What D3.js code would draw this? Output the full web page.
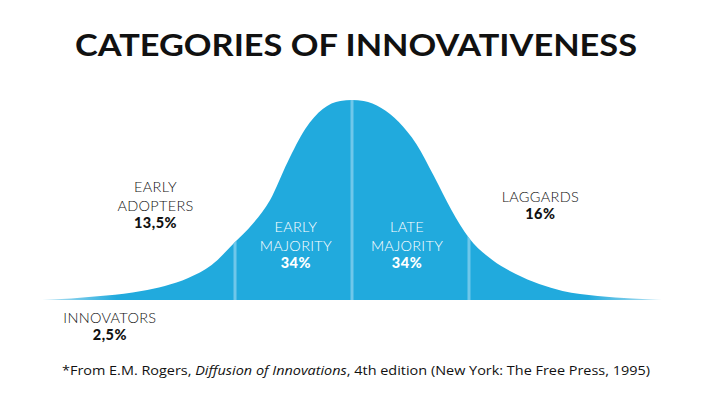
<!DOCTYPE html>
<html>
<head>
<meta charset="utf-8">
<script src="https://cdn.jsdelivr.net/npm/d3@7"></script>
<style>
  html, body { margin: 0; padding: 0; background: #fff; }
  svg { display: block; }
</style>
</head>
<body>
<div id="chart"></div>
<script>
// adoption categories, left to right
const categories = ['INNOVATORS', 'EARLY ADOPTERS', 'EARLY MAJORITY', 'LATE MAJORITY', 'LAGGARDS'];
const shares = ['2,5%', '13,5%', '34%', '34%', '16%'];

// bell curve: x in standard deviations, height relative to the peak
const curveX = [-2.65, -2.4, -2.1, -1.8, -1.6, -1.4, -1.2, -1.0, -0.85, -0.7, -0.55, -0.4, -0.25, -0.1, 0,
  0.1, 0.25, 0.4, 0.55, 0.7, 0.85, 1.0, 1.2, 1.4, 1.6, 1.8, 2.1, 2.4, 2.65];
const curveY = [0, 0.008, 0.022, 0.045, 0.07, 0.11, 0.175, 0.29, 0.38, 0.5, 0.69, 0.855, 0.955, 0.995, 1,
  0.995, 0.96, 0.89, 0.78, 0.62, 0.45, 0.31, 0.2, 0.13, 0.08, 0.045, 0.02, 0.007, 0];

// boundaries between categories (mean - sd, mean, mean + sd)
const dividers = [-1, 0, 1];

const title = 'CATEGORIES OF INNOVATIVENESS';

const width = 712;
const height = 394;
const blue = '#21aadd';

const svg = d3.select('#chart')
  .append('svg')
  .attr('width', width)
  .attr('height', height);

const x = d3.scaleLinear().domain([-2.65, 2.65]).range([42, 662]);
const y = d3.scaleLinear().domain([0, 1]).range([300, 100]);

const points = curveX.map((v, i) => [v, curveY[i]]);

const defs = svg.append('defs');

// tails fade out a little toward both ends
const grad = defs.append('linearGradient')
  .attr('id', 'tailFade')
  .attr('gradientUnits', 'userSpaceOnUse')
  .attr('x1', x(-2.65)).attr('x2', x(2.65))
  .attr('y1', 0).attr('y2', 0);
grad.append('stop').attr('offset', '0%').attr('stop-color', '#bfe6f5');
grad.append('stop').attr('offset', '12%').attr('stop-color', blue);
grad.append('stop').attr('offset', '88%').attr('stop-color', blue);
grad.append('stop').attr('offset', '100%').attr('stop-color', '#bfe6f5');

const area = d3.area()
  .x(d => x(d[0]))
  .y0(y(0))
  .y1(d => y(d[1]))
  .curve(d3.curveMonotoneX);

defs.append('clipPath')
  .attr('id', 'bell')
  .append('path')
  .attr('d', area(points));

svg.append('path')
  .attr('d', area(points))
  .attr('fill', 'url(#tailFade)');

// light dividers, clipped to the bell
svg.append('g')
  .attr('clip-path', 'url(#bell)')
  .selectAll('line')
  .data(dividers)
  .enter()
  .append('line')
  .attr('x1', d => x(d))
  .attr('x2', d => x(d))
  .attr('y1', y(0))
  .attr('y2', y(1.05))
  .attr('stroke', '#6fc7ea')
  .attr('stroke-width', 3);

// title
svg.append('text')
  .attr('x', width / 2)
  .attr('y', 56)
  .attr('text-anchor', 'middle')
  .attr('font-family', 'Lato, "Open Sans", sans-serif')
  .attr('font-weight', 700)
  .attr('font-size', 31)
  .attr('textLength', 562)
  .attr('lengthAdjust', 'spacingAndGlyphs')
  .attr('fill', '#111')
  .text(title);

// label anchors: centre (sd units), baseline of first line, white when inside the bell
const labelSpots = [
  { cx: -2.07, top: 322.5, inside: false },
  { cx: -1.68, top: 192, inside: false },
  { cx: -0.48, top: 232, inside: true },
  { cx: 0.47, top: 232, inside: true },
  { cx: 1.61, top: 201.5, inside: false }
];

const lineGap = 18.5;

categories.forEach((name, i) => {
  const spot = labelSpots[i];
  const words = i === 0 || i === 4 ? [name] : name.split(' ');
  const g = svg.append('g')
    .attr('transform', `translate(${x(spot.cx)},${spot.top})`)
    .attr('text-anchor', 'middle')
    .attr('fill', spot.inside ? '#fff' : '#111');

  words.forEach((w, j) => {
    g.append('text')
      .attr('y', j * lineGap)
      .attr('font-family', 'Lato, sans-serif')
      .attr('font-weight', 300)
      .attr('font-size', 14.5)
      .attr('letter-spacing', 0.3)
      .text(w);
  });

  g.append('text')
    .attr('y', words.length * lineGap - 1)
    .attr('font-family', 'Lato, sans-serif')
    .attr('font-weight', 900)
    .attr('font-size', 14.5)
    .attr('letter-spacing', 0.5)
    .text(shares[i]);
});

// source note
const note = svg.append('text')
  .attr('x', width / 2)
  .attr('y', 375)
  .attr('text-anchor', 'middle')
  .attr('font-family', '"Open Sans", "Noto Sans", sans-serif')
  .attr('font-size', 13.5)
  .attr('fill', '#111')
  .attr('textLength', 588)
  .attr('lengthAdjust', 'spacingAndGlyphs');
note.append('tspan').text('*From E.M. Rogers, ');
note.append('tspan').attr('font-style', 'italic').text('Diffusion of Innovations');
note.append('tspan').text(', 4th edition (New York: The Free Press, 1995)');
</script>
</body>
</html>
